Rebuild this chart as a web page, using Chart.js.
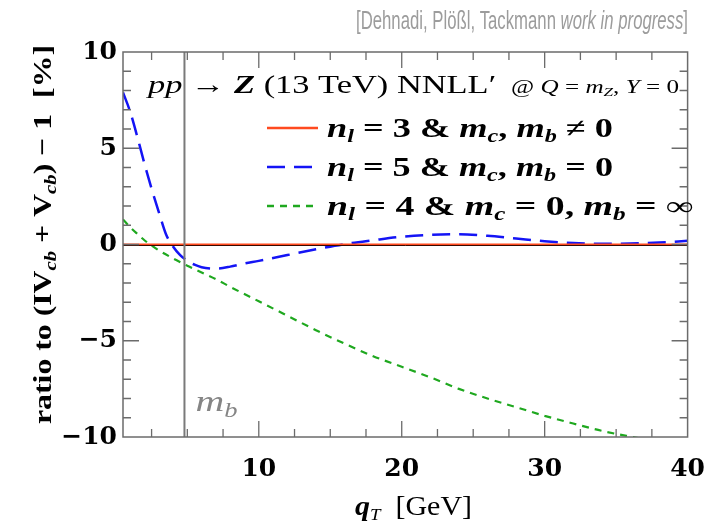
<!DOCTYPE html>
<html>
<head>
<meta charset="utf-8">
<script src="https://cdn.jsdelivr.net/npm/chart.js@4"></script>
<style>
  html, body { margin: 0; padding: 0; background: #fff; }
</style>
</head>
<body>
<canvas id="chart" width="722" height="527"></canvas>
<script>
// data (qT in GeV, ratio in %)
const qtBlue = [0.5, 1, 1.5, 2, 2.5, 3, 3.5, 4, 4.5, 5, 5.5, 6, 7, 8, 9, 10, 12, 14, 16, 18, 20, 22, 24, 26, 28, 30, 32, 34, 36, 38, 40];
const nl5 = [7.9, 6.9, 5.6, 4.2, 2.9, 1.7, 0.55, -0.1, -0.55, -0.85, -1.05, -1.18, -1.25, -1.15, -0.98, -0.85, -0.55, -0.25, 0.02, 0.22, 0.40, 0.50, 0.53, 0.45, 0.31, 0.17, 0.08, 0.04, 0.05, 0.10, 0.19];

const qtGreen = [0.5, 1, 1.5, 2, 2.5, 3, 4, 5, 6, 7, 8, 10, 12, 14, 16, 18, 20, 22, 24, 26, 28, 30, 32, 34, 36, 38, 40];
const nl4 = [1.3, 0.9, 0.55, 0.22, -0.05, -0.3, -0.72, -1.1, -1.45, -1.8, -2.2, -2.95, -3.7, -4.45, -5.15, -5.8, -6.35, -6.9, -7.5, -8.0, -8.45, -8.9, -9.3, -9.68, -9.98, -10.25, -10.5];

const qtRed = [0.5, 40];
const nl3 = [0, 0];

const xTickLabels = [10, 20, 30, 40];
const yTickLabels = [-10, -5, 0, 5, 10];
const mb = 4.8;

const SERIF = '"Liberation Serif", "DejaVu Serif", serif';
const RED = '#ff4a1f', BLUE = '#1414f5', GREEN = '#1fa81f', FRAME = '#6b6b6b';

const toPts = (xs, ys) => xs.map((x, i) => ({ x: x, y: ys[i] }));

// draw a row of text pieces with different fonts, optionally squeezed to a width
function drawRuns(ctx, runs, x, y, fit) {
    let w = 0;
    runs.forEach(r => { ctx.font = r.f; w += ctx.measureText(r.t).width; });
    const s = fit ? fit / w : 1;
    ctx.save();
    ctx.translate(x, y);
    ctx.scale(s, 1);
    ctx.textAlign = 'left';
    ctx.textBaseline = 'alphabetic';
    let cx = 0;
    runs.forEach(r => {
        ctx.font = r.f;
        ctx.fillText(r.t, cx, r.dy || 0);
        cx += ctx.measureText(r.t).width;
    });
    ctx.restore();
}

const b27 = 'bold 27px ' + SERIF, bi27 = 'bold italic 27px ' + SERIF, bi18 = 'bold italic 18px ' + SERIF;
const b26 = 'bold 26px ' + SERIF, bi26 = 'bold italic 26px ' + SERIF, bi17 = 'bold italic 17px ' + SERIF;
const r26 = '26px ' + SERIF, i26 = 'italic 26px ' + SERIF, r19 = '19px ' + SERIF, i19 = 'italic 19px ' + SERIF, i17 = 'italic 17px ' + SERIF;

const legendRows = [
    { color: RED, dash: [], runs: [{ t: 'n', f: bi27 }, { t: 'l', f: bi18, dy: 5 }, { t: ' = 3 & ', f: b27 }, { t: 'm', f: bi27 }, { t: 'c', f: bi18, dy: 5 }, { t: ', ', f: b27 }, { t: 'm', f: bi27 }, { t: 'b', f: bi18, dy: 5 }, { t: ' \u2260 0', f: b27 }], fit: 286 },
    { color: BLUE, dash: [18, 9], runs: [{ t: 'n', f: bi27 }, { t: 'l', f: bi18, dy: 5 }, { t: ' = 5 & ', f: b27 }, { t: 'm', f: bi27 }, { t: 'c', f: bi18, dy: 5 }, { t: ', ', f: b27 }, { t: 'm', f: bi27 }, { t: 'b', f: bi18, dy: 5 }, { t: ' = 0', f: b27 }], fit: 286 },
    { color: GREEN, dash: [7, 6], runs: [{ t: 'n', f: bi27 }, { t: 'l', f: bi18, dy: 5 }, { t: ' = 4 & ', f: b27 }, { t: 'm', f: bi27 }, { t: 'c', f: bi18, dy: 5 }, { t: ' = 0, ', f: b27 }, { t: 'm', f: bi27 }, { t: 'b', f: bi18, dy: 5 }, { t: ' = \u221e', f: b27 }], fit: 366 }
];

const decor = {
    id: 'decor',
    afterDatasetsDraw(chart) {
        const ctx = chart.ctx, a = chart.chartArea;
        const xs = chart.scales.x, ys = chart.scales.y;
        ctx.save();

        // thin dark line under the red reference curve
        const y0 = ys.getPixelForValue(0);
        ctx.strokeStyle = '#3a0a00';
        ctx.lineWidth = 1;
        ctx.beginPath(); ctx.moveTo(a.left, y0 + 1); ctx.lineTo(a.right, y0 + 1); ctx.stroke();

        // m_b marker
        const xb = xs.getPixelForValue(mb);
        ctx.strokeStyle = '#7a7a7a';
        ctx.lineWidth = 2;
        ctx.beginPath(); ctx.moveTo(xb, a.top); ctx.lineTo(xb, a.bottom); ctx.stroke();
        ctx.fillStyle = '#858585';
        drawRuns(ctx, [{ t: 'm', f: 'italic 30px ' + SERIF }, { t: 'b', f: 'italic 20px ' + SERIF, dy: 6 }], xb + 11, 411, 42);

        // frame + inward ticks
        ctx.strokeStyle = FRAME;
        ctx.lineWidth = 1.5;
        ctx.strokeRect(a.left, a.top, a.right - a.left, a.bottom - a.top);
        ctx.lineWidth = 1.3;
        ctx.beginPath();
        for (let v = 2.5; v < 40; v += 2.5) {
            const px = xs.getPixelForValue(v);
            const len = v % 10 === 0 ? 16 : 8;
            ctx.moveTo(px, a.bottom); ctx.lineTo(px, a.bottom - len);
            ctx.moveTo(px, a.top); ctx.lineTo(px, a.top + len);
        }
        for (let v = -9; v < 10; v++) {
            const py = ys.getPixelForValue(v);
            const len = v % 5 === 0 ? 16 : 8;
            ctx.moveTo(a.left, py); ctx.lineTo(a.left + len, py);
            ctx.moveTo(a.right, py); ctx.lineTo(a.right - len, py);
        }
        ctx.stroke();

        // legend
        legendRows.forEach((row, i) => {
            const ly = 128 + i * 39;
            ctx.strokeStyle = row.color;
            ctx.lineWidth = 2.5;
            ctx.setLineDash(row.dash);
            ctx.beginPath(); ctx.moveTo(267, ly); ctx.lineTo(318, ly); ctx.stroke();
            ctx.setLineDash([]);
            ctx.fillStyle = '#000';
            drawRuns(ctx, row.runs, 327, ly + 9, row.fit);
        });

        // process label
        ctx.fillStyle = '#000';
        drawRuns(ctx, [
            { t: 'pp', f: i26 }, { t: ' \u2192 ', f: r26 }, { t: 'Z', f: bi26 },
            { t: ' (13 TeV) NNLL\u2032 ', f: r26 }, { t: ' @ ', f: r19 }, { t: 'Q', f: i19 },
            { t: ' = ', f: r19 }, { t: 'm', f: i19 }, { t: 'Z', f: 'italic 13px ' + SERIF, dy: 3 },
            { t: ', ', f: r19 }, { t: 'Y', f: i19 }, { t: ' = 0', f: r19 }
        ], 148, 93, 531);

        // top credit line
        ctx.fillStyle = '#9c9c9c';
        const sans = '"Liberation Sans", Arial, sans-serif';
        drawRuns(ctx, [
            { t: '[Dehnadi, Plößl, Tackmann ', f: '25px ' + sans },
            { t: 'work in progress', f: 'italic 25px ' + sans },
            { t: ']', f: '25px ' + sans }
        ], 356, 29, 332);

        // axis titles
        ctx.fillStyle = '#000';
        drawRuns(ctx, [{ t: 'q', f: bi27 }, { t: 'T', f: i17, dy: 5 }, { t: '  [GeV]', f: '27px ' + SERIF }], 355, 515, 117);
        ctx.save();
        ctx.translate(51, 424);
        ctx.rotate(-Math.PI / 2);
        drawRuns(ctx, [
            { t: 'ratio to (IV', f: b26 }, { t: 'cb', f: bi17, dy: 5 }, { t: ' + V', f: b26 },
            { t: 'cb', f: bi17, dy: 5 }, { t: ') \u2212 1  [%]', f: b26 }
        ], 0, 0, 379);
        ctx.restore();

        ctx.restore();
    }
};

new Chart(document.getElementById('chart').getContext('2d'), {
    type: 'line',
    data: {
        datasets: [
            { label: 'nl=3', data: toPts(qtRed, nl3), borderColor: RED, borderWidth: 2, pointRadius: 0 },
            { label: 'nl=5', data: toPts(qtBlue, nl5), borderColor: BLUE, borderWidth: 2.5, borderDash: [18, 9], pointRadius: 0, cubicInterpolationMode: 'monotone' },
            { label: 'nl=4', data: toPts(qtGreen, nl4), borderColor: GREEN, borderWidth: 2.2, borderDash: [7, 6], pointRadius: 0, cubicInterpolationMode: 'monotone' }
        ]
    },
    options: {
        responsive: false,
        animation: false,
        layout: { padding: { top: 52, right: 19, left: 0, bottom: 0 } },
        plugins: { legend: { display: false }, tooltip: { enabled: false } },
        scales: {
            x: {
                type: 'linear', min: 0.5, max: 40,
                afterBuildTicks: s => { s.ticks = xTickLabels.map(v => ({ value: v })); },
                afterFit: s => { s.height = 90; },
                grid: { display: false, drawTicks: false },
                border: { display: false },
                ticks: { color: '#000', padding: 17, maxRotation: 0, font: { family: '"DejaVu Serif", serif', weight: 'bold', size: 25 } }
            },
            y: {
                type: 'linear', min: -10, max: 10,
                afterBuildTicks: s => { s.ticks = yTickLabels.map(v => ({ value: v })); },
                afterFit: s => { s.width = 123; },
                grid: { display: false, drawTicks: false },
                border: { display: false },
                ticks: {
                    color: '#000', padding: 6,
                    font: { family: '"DejaVu Serif", serif', weight: 'bold', size: 25 },
                    callback: v => String(v).replace('-', '\u2212')
                }
            }
        }
    },
    plugins: [decor]
});
</script>
</body>
</html>
